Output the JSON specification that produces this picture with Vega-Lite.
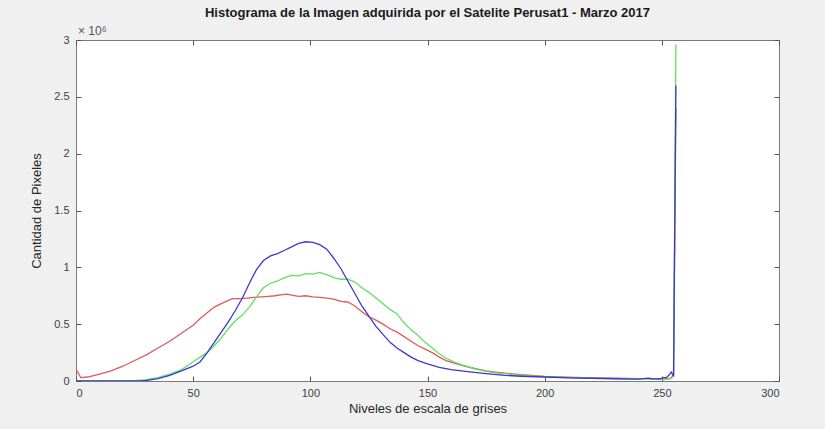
{
  "$schema": "https://vega.github.io/schema/vega-lite/v6.json",
  "width": 703,
  "height": 341,
  "autosize": {"type": "none"},
  "padding": {"left": 76, "top": 40, "right": 46, "bottom": 48},
  "background": "#f0f0f0",
  "title": {
    "text": "Histograma de la Imagen adquirida por el Satelite Perusat1 - Marzo 2017",
    "font": "Liberation Sans",
    "fontSize": 13,
    "fontWeight": "bold",
    "color": "#1a1a1a",
    "anchor": "middle",
    "offset": 5
  },
  "config": {
    "view": {"fill": "white", "stroke": "#7a7a7a", "strokeWidth": 1},
    "axis": {
      "grid": false,
      "zindex": 1,
      "domain": false,
      "tickColor": "#555555",
      "tickWidth": 1,
      "tickSize": 5,
      "offset": -5,
      "labelFont": "Liberation Sans",
      "labelFontSize": 11,
      "labelColor": "#404040",
      "titleFont": "Liberation Sans",
      "titleFontSize": 13,
      "titleFontWeight": "normal",
      "titleColor": "#262626"
    }
  },
  "data": {
    "values": [
      {"nivel": 0, "canal": "R", "pixeles": 0.10},
      {"nivel": 1, "canal": "R", "pixeles": 0.07},
      {"nivel": 2, "canal": "R", "pixeles": 0.03},
      {"nivel": 5, "canal": "R", "pixeles": 0.035},
      {"nivel": 10, "canal": "R", "pixeles": 0.06},
      {"nivel": 15, "canal": "R", "pixeles": 0.09},
      {"nivel": 20, "canal": "R", "pixeles": 0.13},
      {"nivel": 25, "canal": "R", "pixeles": 0.18},
      {"nivel": 30, "canal": "R", "pixeles": 0.23},
      {"nivel": 35, "canal": "R", "pixeles": 0.29},
      {"nivel": 40, "canal": "R", "pixeles": 0.35},
      {"nivel": 45, "canal": "R", "pixeles": 0.42},
      {"nivel": 50, "canal": "R", "pixeles": 0.49},
      {"nivel": 53, "canal": "R", "pixeles": 0.55},
      {"nivel": 56, "canal": "R", "pixeles": 0.60},
      {"nivel": 59, "canal": "R", "pixeles": 0.65},
      {"nivel": 62, "canal": "R", "pixeles": 0.68},
      {"nivel": 65, "canal": "R", "pixeles": 0.71},
      {"nivel": 67, "canal": "R", "pixeles": 0.725},
      {"nivel": 70, "canal": "R", "pixeles": 0.725},
      {"nivel": 73, "canal": "R", "pixeles": 0.73},
      {"nivel": 76, "canal": "R", "pixeles": 0.735},
      {"nivel": 79, "canal": "R", "pixeles": 0.74},
      {"nivel": 82, "canal": "R", "pixeles": 0.745},
      {"nivel": 85, "canal": "R", "pixeles": 0.75},
      {"nivel": 88, "canal": "R", "pixeles": 0.76},
      {"nivel": 90, "canal": "R", "pixeles": 0.765},
      {"nivel": 92, "canal": "R", "pixeles": 0.755},
      {"nivel": 95, "canal": "R", "pixeles": 0.745},
      {"nivel": 98, "canal": "R", "pixeles": 0.75},
      {"nivel": 101, "canal": "R", "pixeles": 0.74},
      {"nivel": 104, "canal": "R", "pixeles": 0.735},
      {"nivel": 107, "canal": "R", "pixeles": 0.73},
      {"nivel": 110, "canal": "R", "pixeles": 0.72},
      {"nivel": 113, "canal": "R", "pixeles": 0.70},
      {"nivel": 116, "canal": "R", "pixeles": 0.695},
      {"nivel": 119, "canal": "R", "pixeles": 0.66},
      {"nivel": 122, "canal": "R", "pixeles": 0.61},
      {"nivel": 125, "canal": "R", "pixeles": 0.565},
      {"nivel": 128, "canal": "R", "pixeles": 0.535},
      {"nivel": 131, "canal": "R", "pixeles": 0.50},
      {"nivel": 134, "canal": "R", "pixeles": 0.46},
      {"nivel": 137, "canal": "R", "pixeles": 0.43},
      {"nivel": 140, "canal": "R", "pixeles": 0.39},
      {"nivel": 143, "canal": "R", "pixeles": 0.35},
      {"nivel": 146, "canal": "R", "pixeles": 0.31},
      {"nivel": 149, "canal": "R", "pixeles": 0.28},
      {"nivel": 152, "canal": "R", "pixeles": 0.25},
      {"nivel": 155, "canal": "R", "pixeles": 0.21},
      {"nivel": 158, "canal": "R", "pixeles": 0.18},
      {"nivel": 161, "canal": "R", "pixeles": 0.16},
      {"nivel": 165, "canal": "R", "pixeles": 0.135},
      {"nivel": 170, "canal": "R", "pixeles": 0.11},
      {"nivel": 175, "canal": "R", "pixeles": 0.09},
      {"nivel": 180, "canal": "R", "pixeles": 0.075},
      {"nivel": 185, "canal": "R", "pixeles": 0.065},
      {"nivel": 190, "canal": "R", "pixeles": 0.055},
      {"nivel": 200, "canal": "R", "pixeles": 0.04},
      {"nivel": 210, "canal": "R", "pixeles": 0.033},
      {"nivel": 220, "canal": "R", "pixeles": 0.028},
      {"nivel": 230, "canal": "R", "pixeles": 0.024},
      {"nivel": 240, "canal": "R", "pixeles": 0.021},
      {"nivel": 250, "canal": "R", "pixeles": 0.02},
      {"nivel": 253, "canal": "R", "pixeles": 0.02},
      {"nivel": 254, "canal": "R", "pixeles": 0.03},
      {"nivel": 255, "canal": "R", "pixeles": 0.05},
      {"nivel": 256, "canal": "R", "pixeles": 2.4},

      {"nivel": 0, "canal": "G", "pixeles": 0.0},
      {"nivel": 20, "canal": "G", "pixeles": 0.0},
      {"nivel": 25, "canal": "G", "pixeles": 0.003},
      {"nivel": 30, "canal": "G", "pixeles": 0.012},
      {"nivel": 35, "canal": "G", "pixeles": 0.03},
      {"nivel": 40, "canal": "G", "pixeles": 0.06},
      {"nivel": 45, "canal": "G", "pixeles": 0.10},
      {"nivel": 48, "canal": "G", "pixeles": 0.14},
      {"nivel": 50, "canal": "G", "pixeles": 0.17},
      {"nivel": 53, "canal": "G", "pixeles": 0.21},
      {"nivel": 56, "canal": "G", "pixeles": 0.25},
      {"nivel": 59, "canal": "G", "pixeles": 0.31},
      {"nivel": 62, "canal": "G", "pixeles": 0.38},
      {"nivel": 65, "canal": "G", "pixeles": 0.46},
      {"nivel": 68, "canal": "G", "pixeles": 0.53},
      {"nivel": 71, "canal": "G", "pixeles": 0.58},
      {"nivel": 74, "canal": "G", "pixeles": 0.65},
      {"nivel": 77, "canal": "G", "pixeles": 0.74},
      {"nivel": 80, "canal": "G", "pixeles": 0.82},
      {"nivel": 83, "canal": "G", "pixeles": 0.86},
      {"nivel": 86, "canal": "G", "pixeles": 0.88},
      {"nivel": 89, "canal": "G", "pixeles": 0.91},
      {"nivel": 92, "canal": "G", "pixeles": 0.93},
      {"nivel": 95, "canal": "G", "pixeles": 0.925},
      {"nivel": 98, "canal": "G", "pixeles": 0.945},
      {"nivel": 101, "canal": "G", "pixeles": 0.94},
      {"nivel": 104, "canal": "G", "pixeles": 0.955},
      {"nivel": 107, "canal": "G", "pixeles": 0.935},
      {"nivel": 110, "canal": "G", "pixeles": 0.91},
      {"nivel": 113, "canal": "G", "pixeles": 0.895},
      {"nivel": 116, "canal": "G", "pixeles": 0.895},
      {"nivel": 119, "canal": "G", "pixeles": 0.87},
      {"nivel": 122, "canal": "G", "pixeles": 0.82},
      {"nivel": 125, "canal": "G", "pixeles": 0.78},
      {"nivel": 128, "canal": "G", "pixeles": 0.73},
      {"nivel": 131, "canal": "G", "pixeles": 0.68},
      {"nivel": 134, "canal": "G", "pixeles": 0.63},
      {"nivel": 137, "canal": "G", "pixeles": 0.59},
      {"nivel": 140, "canal": "G", "pixeles": 0.51},
      {"nivel": 143, "canal": "G", "pixeles": 0.45},
      {"nivel": 146, "canal": "G", "pixeles": 0.40},
      {"nivel": 149, "canal": "G", "pixeles": 0.34},
      {"nivel": 152, "canal": "G", "pixeles": 0.29},
      {"nivel": 155, "canal": "G", "pixeles": 0.24},
      {"nivel": 158, "canal": "G", "pixeles": 0.20},
      {"nivel": 161, "canal": "G", "pixeles": 0.17},
      {"nivel": 165, "canal": "G", "pixeles": 0.14},
      {"nivel": 170, "canal": "G", "pixeles": 0.11},
      {"nivel": 175, "canal": "G", "pixeles": 0.085},
      {"nivel": 180, "canal": "G", "pixeles": 0.07},
      {"nivel": 185, "canal": "G", "pixeles": 0.06},
      {"nivel": 190, "canal": "G", "pixeles": 0.05},
      {"nivel": 200, "canal": "G", "pixeles": 0.038},
      {"nivel": 210, "canal": "G", "pixeles": 0.03},
      {"nivel": 220, "canal": "G", "pixeles": 0.025},
      {"nivel": 230, "canal": "G", "pixeles": 0.021},
      {"nivel": 240, "canal": "G", "pixeles": 0.018},
      {"nivel": 250, "canal": "G", "pixeles": 0.016},
      {"nivel": 254, "canal": "G", "pixeles": 0.02},
      {"nivel": 255, "canal": "G", "pixeles": 0.05},
      {"nivel": 256, "canal": "G", "pixeles": 2.96},

      {"nivel": 0, "canal": "B", "pixeles": 0.0},
      {"nivel": 28, "canal": "B", "pixeles": 0.0},
      {"nivel": 30, "canal": "B", "pixeles": 0.005},
      {"nivel": 35, "canal": "B", "pixeles": 0.02},
      {"nivel": 40, "canal": "B", "pixeles": 0.05},
      {"nivel": 45, "canal": "B", "pixeles": 0.09},
      {"nivel": 50, "canal": "B", "pixeles": 0.13},
      {"nivel": 53, "canal": "B", "pixeles": 0.17},
      {"nivel": 56, "canal": "B", "pixeles": 0.25},
      {"nivel": 59, "canal": "B", "pixeles": 0.34},
      {"nivel": 62, "canal": "B", "pixeles": 0.43},
      {"nivel": 65, "canal": "B", "pixeles": 0.52},
      {"nivel": 68, "canal": "B", "pixeles": 0.62},
      {"nivel": 71, "canal": "B", "pixeles": 0.73},
      {"nivel": 74, "canal": "B", "pixeles": 0.86},
      {"nivel": 77, "canal": "B", "pixeles": 0.98},
      {"nivel": 80, "canal": "B", "pixeles": 1.06},
      {"nivel": 83, "canal": "B", "pixeles": 1.10},
      {"nivel": 86, "canal": "B", "pixeles": 1.12},
      {"nivel": 89, "canal": "B", "pixeles": 1.15},
      {"nivel": 92, "canal": "B", "pixeles": 1.18},
      {"nivel": 95, "canal": "B", "pixeles": 1.21},
      {"nivel": 98, "canal": "B", "pixeles": 1.225},
      {"nivel": 101, "canal": "B", "pixeles": 1.22},
      {"nivel": 104, "canal": "B", "pixeles": 1.20},
      {"nivel": 107, "canal": "B", "pixeles": 1.16},
      {"nivel": 110, "canal": "B", "pixeles": 1.08},
      {"nivel": 113, "canal": "B", "pixeles": 0.99},
      {"nivel": 116, "canal": "B", "pixeles": 0.88},
      {"nivel": 119, "canal": "B", "pixeles": 0.77},
      {"nivel": 122, "canal": "B", "pixeles": 0.66},
      {"nivel": 125, "canal": "B", "pixeles": 0.57},
      {"nivel": 128, "canal": "B", "pixeles": 0.48},
      {"nivel": 131, "canal": "B", "pixeles": 0.41},
      {"nivel": 134, "canal": "B", "pixeles": 0.34},
      {"nivel": 137, "canal": "B", "pixeles": 0.29},
      {"nivel": 140, "canal": "B", "pixeles": 0.25},
      {"nivel": 143, "canal": "B", "pixeles": 0.21},
      {"nivel": 146, "canal": "B", "pixeles": 0.18},
      {"nivel": 150, "canal": "B", "pixeles": 0.15},
      {"nivel": 155, "canal": "B", "pixeles": 0.12},
      {"nivel": 160, "canal": "B", "pixeles": 0.10},
      {"nivel": 168, "canal": "B", "pixeles": 0.08},
      {"nivel": 175, "canal": "B", "pixeles": 0.065},
      {"nivel": 183, "canal": "B", "pixeles": 0.05},
      {"nivel": 190, "canal": "B", "pixeles": 0.042},
      {"nivel": 200, "canal": "B", "pixeles": 0.035},
      {"nivel": 210, "canal": "B", "pixeles": 0.028},
      {"nivel": 220, "canal": "B", "pixeles": 0.024},
      {"nivel": 230, "canal": "B", "pixeles": 0.02},
      {"nivel": 240, "canal": "B", "pixeles": 0.017},
      {"nivel": 244, "canal": "B", "pixeles": 0.025},
      {"nivel": 246, "canal": "B", "pixeles": 0.02},
      {"nivel": 249, "canal": "B", "pixeles": 0.018},
      {"nivel": 251, "canal": "B", "pixeles": 0.03},
      {"nivel": 252, "canal": "B", "pixeles": 0.03},
      {"nivel": 253, "canal": "B", "pixeles": 0.05},
      {"nivel": 254, "canal": "B", "pixeles": 0.08},
      {"nivel": 255, "canal": "B", "pixeles": 0.04},
      {"nivel": 256, "canal": "B", "pixeles": 2.60}
    ]
  },
  "layer": [
    {
      "mark": {"type": "line", "strokeWidth": 1.3, "clip": true},
      "encoding": {
        "x": {
          "field": "nivel", "type": "quantitative",
          "scale": {"domain": [0, 300], "nice": false},
          "axis": {"title": "Niveles de escala de grises", "values": [0, 50, 100, 150, 200, 250, 300], "format": "d", "labelPadding": 6, "titlePadding": 4}
        },
        "y": {
          "field": "pixeles", "type": "quantitative",
          "scale": {"domain": [0, 3], "nice": false},
          "axis": {"title": "Cantidad de Pixeles", "values": [0, 0.5, 1, 1.5, 2, 2.5, 3], "format": ".1~f", "labelPadding": 7, "titlePadding": 10}
        },
        "color": {
          "field": "canal", "type": "nominal",
          "scale": {"domain": ["R", "G", "B"], "range": ["#e05a5a", "#5fe060", "#3a3acb"]},
          "legend": null
        },
        "order": {"field": "nivel", "type": "quantitative"}
      }
    },
    {
      "data": {"values": [{"nivel": 0, "pixeles": 0}]},
      "mark": {"type": "point", "opacity": 0},
      "encoding": {
        "x": {
          "field": "nivel", "type": "quantitative",
          "axis": {"orient": "top", "title": null, "labels": false, "values": [0, 50, 100, 150, 200, 250, 300]}
        },
        "y": {
          "field": "pixeles", "type": "quantitative",
          "axis": {"orient": "right", "title": null, "labels": false, "values": [0, 0.5, 1, 1.5, 2, 2.5, 3]}
        }
      }
    },
    {
      "data": {"values": [{"nota": "× 10⁶"}]},
      "mark": {"type": "text", "align": "left", "baseline": "bottom", "dx": 2, "dy": -2, "font": "Liberation Sans", "fontSize": 12, "fontWeight": "normal", "color": "#555555"},
      "encoding": {
        "text": {"field": "nota", "type": "nominal"},
        "x": {"datum": 0, "type": "quantitative", "axis": null},
        "y": {"datum": 3, "type": "quantitative", "axis": null}
      }
    }
  ],
  "resolve": {"axis": {"x": "independent", "y": "independent"}}
}
